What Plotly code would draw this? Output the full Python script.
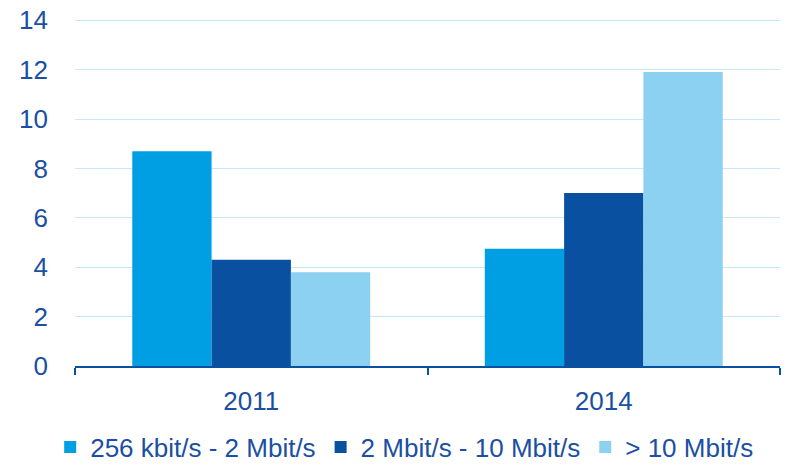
import plotly.graph_objects as go

years = ["2011", "2014"]
series_names = ["256 kbit/s - 2 Mbit/s", "2 Mbit/s - 10 Mbit/s", "> 10 Mbit/s"]
values_256k_2m = [8.7, 4.75]
values_2m_10m = [4.3, 7.0]
values_over_10m = [3.8, 11.9]

colors = ["#009fe3", "#0a50a1", "#8dd1f2"]
text_color = "#1a4fa3"
font_family = "Liberation Sans, Arial, sans-serif"

fig = go.Figure()
for name, vals, color in zip(series_names, [values_256k_2m, values_2m_10m, values_over_10m], colors):
    fig.add_trace(
        go.Bar(
            x=years,
            y=vals,
            name=name,
            marker=dict(color=color, line=dict(width=0)),
        )
    )

# page body has an 8px margin, so the figure is sized 783x457 to fill the window
fig.update_layout(
    width=783,
    height=457,
    barmode="group",
    bargap=0.325,
    bargroupgap=0,
    plot_bgcolor="white",
    paper_bgcolor="white",
    margin=dict(l=67, r=11, t=11, b=99, autoexpand=False),
    font=dict(family=font_family, size=26, color=text_color),
    legend=dict(
        orientation="h",
        x=0.506,
        xanchor="center",
        xref="container",
        y=0.039,
        yanchor="middle",
        yref="container",
        font=dict(family=font_family, size=26, color=text_color),
        itemwidth=30,
        tracegroupgap=0,
    ),
)
fig.update_xaxes(
    showline=True,
    linecolor="#0a50a1",
    linewidth=2,
    ticks="outside",
    tickson="boundaries",
    ticklen=7,
    tickwidth=2,
    tickcolor="#0a50a1",
    showgrid=False,
    ticklabelstandoff=11,
)
fig.update_yaxes(
    range=[0, 14.05],
    dtick=2,
    showgrid=True,
    gridcolor="#c6e9f8",
    gridwidth=1,
    showline=False,
    zeroline=False,
    ticks="",
    ticklabelstandoff=26,
    ticklabeloverflow="allow",
)

fig.write_html("out.html")
